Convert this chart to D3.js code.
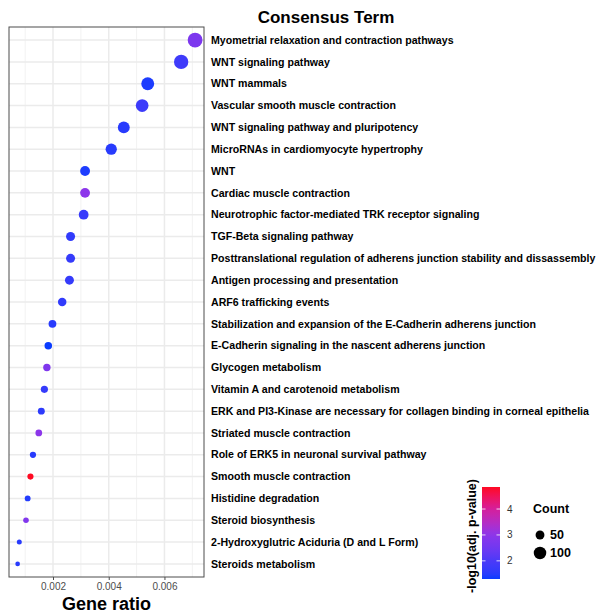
<!DOCTYPE html>
<html><head><meta charset="utf-8">
<script src="https://cdn.jsdelivr.net/npm/d3@7"></script>
<style>body{margin:0;background:#fff;} svg{display:block;font-family:"Liberation Sans",Arial,sans-serif;}</style>
</head><body><svg id="c" width="596" height="614"></svg>
<script>
const terms = [
 "Myometrial relaxation and contraction pathways",
 "WNT signaling pathway",
 "WNT mammals",
 "Vascular smooth muscle contraction",
 "WNT signaling pathway and pluripotency",
 "MicroRNAs in cardiomyocyte hypertrophy",
 "WNT",
 "Cardiac muscle contraction",
 "Neurotrophic factor-mediated TRK receptor signaling",
 "TGF-Beta signaling pathway",
 "Posttranslational regulation of adherens junction stability and dissassembly",
 "Antigen processing and presentation",
 "ARF6 trafficking events",
 "Stabilization and expansion of the E-Cadherin adherens junction",
 "E-Cadherin signaling in the nascent adherens junction",
 "Glycogen metabolism",
 "Vitamin A and carotenoid metabolism",
 "ERK and PI3-Kinase are necessary for collagen binding in corneal epithelia",
 "Striated muscle contraction",
 "Role of ERK5 in neuronal survival pathway",
 "Smooth muscle contraction",
 "Histidine degradation",
 "Steroid biosynthesis",
 "2-Hydroxyglutric Aciduria (D and L Form)",
 "Steroids metabolism"
];
const geneRatio = [0.00710,0.00660,0.00540,0.00520,0.00454,0.00409,0.00315,0.00315,0.00310,0.00263,0.00263,0.00259,0.00233,0.00198,0.00183,0.00178,0.00169,0.00158,0.00149,0.00128,0.00119,0.00109,0.00103,0.00079,0.00073];
const counts = [140,131,107,103,90,81,62,62,61,52,52,51,46,39,36,35,33,31,29,25,24,22,20,16,14];
const negLogP = [2.7,1.8,1.4,1.75,1.5,1.5,1.4,3.0,1.7,1.6,1.65,1.65,1.6,1.5,1.3,2.75,1.65,1.55,3.0,1.5,4.85,1.45,2.8,1.5,1.5];
const xTicks = [0.002,0.004,0.006];
const xMinor = [0.001,0.003,0.005,0.007];
const colorTicks = [2,3,4];
const colorStops = [1.3,2,3,4,4.85];
const colorRange = ["#0a3cff","#4a3af8","#8c36ea","#d41f9c","#ff0a22"];
const sizeBreaks = [50,100];

const svg = d3.select("#c");
const P = {l:9, r:204, t:27, b:577};

const x = d3.scaleLinear().domain([0.00042,0.00742]).range([P.l,P.r]);
const y = d3.scalePoint().domain(terms).range([P.t,P.b]).padding(0.6);
const cDom = [colorStops[0], colorStops[colorStops.length-1]];
const color = d3.scaleLinear().domain(colorStops).range(colorRange).interpolate(d3.interpolateLab);
const r = d3.scaleSqrt().domain([0,140]).range([0,7.4]);

svg.append("rect").attr("x",P.l).attr("y",P.t).attr("width",P.r-P.l).attr("height",P.b-P.t).attr("fill","#fff");
const g = svg.append("g");
g.selectAll(".mn").data(xMinor).join("line").attr("x1",d=>x(d)).attr("x2",d=>x(d)).attr("y1",P.t).attr("y2",P.b).attr("stroke","#f2f2f2").attr("stroke-width",1);
g.selectAll(".mj").data(xTicks).join("line").attr("x1",d=>x(d)).attr("x2",d=>x(d)).attr("y1",P.t).attr("y2",P.b).attr("stroke","#ebebeb").attr("stroke-width",1.5);
g.selectAll(".hy").data(terms).join("line").attr("x1",P.l).attr("x2",P.r).attr("y1",d=>y(d)).attr("y2",d=>y(d)).attr("stroke","#ebebeb").attr("stroke-width",1.5);

const data = terms.map((t,i)=>({t,gr:geneRatio[i],c:counts[i],p:negLogP[i]}));
svg.append("g").selectAll("circle").data(data).join("circle")
 .attr("cx",d=>x(d.gr)).attr("cy",d=>y(d.t)).attr("r",d=>r(d.c)).attr("fill",d=>color(d.p));

svg.append("rect").attr("x",P.l).attr("y",P.t).attr("width",P.r-P.l).attr("height",P.b-P.t).attr("fill","none").attr("stroke","#4d4d4d").attr("stroke-width",1);

const xa = svg.append("g").attr("transform",`translate(0,${P.b})`)
 .call(d3.axisBottom(x).tickValues(xTicks).tickSize(3).tickPadding(3).tickFormat(d3.format(".3f")));
xa.select(".domain").remove();
xa.selectAll("line").attr("stroke","#4d4d4d");
xa.selectAll("text").attr("fill","#4d4d4d").attr("font-size",10).attr("font-family","Liberation Sans, Arial, sans-serif");

svg.append("text").attr("x",(P.l+P.r)/2).attr("y",610).attr("text-anchor","middle")
 .attr("font-size",18).attr("font-weight","bold").text("Gene ratio");

svg.append("g").selectAll("text").data(terms).join("text")
 .attr("x",211).attr("y",d=>y(d)).attr("dy","0.35em").attr("font-size",10.6).attr("font-weight","bold").attr("fill","#000").text(d=>d);

svg.append("text").attr("x",326).attr("y",23).attr("text-anchor","middle").attr("font-size",17).attr("font-weight","bold").text("Consensus Term");

const cb = {x:482,w:18,top:487,bot:579};
const cy = d3.scaleLinear().domain(cDom).range([cb.bot,cb.top]);
const defs = svg.append("defs");
const grad = defs.append("linearGradient").attr("id","cg").attr("x1",0).attr("y1",1).attr("x2",0).attr("y2",0);
d3.range(0,1.0001,0.05).forEach(f=>{
  grad.append("stop").attr("offset",f).attr("stop-color",color(cDom[0]+f*(cDom[1]-cDom[0])));
});
svg.append("rect").attr("x",cb.x).attr("y",cb.top).attr("width",cb.w).attr("height",cb.bot-cb.top).attr("fill","url(#cg)");
colorTicks.forEach(v=>{
  svg.append("line").attr("x1",cb.x).attr("x2",cb.x+3.5).attr("y1",cy(v)).attr("y2",cy(v)).attr("stroke","#fff").attr("stroke-opacity",0.8);
  svg.append("line").attr("x1",cb.x+cb.w-3.5).attr("x2",cb.x+cb.w).attr("y1",cy(v)).attr("y2",cy(v)).attr("stroke","#fff").attr("stroke-opacity",0.8);
});
svg.append("g").selectAll("text").data(colorTicks).join("text")
 .attr("x",507).attr("y",d=>cy(d)).attr("dy","0.35em").attr("font-size",10).attr("fill","#333").text(d=>d);
svg.append("text").attr("transform","translate(476,536) rotate(-90)").attr("text-anchor","middle")
 .attr("font-size",12.5).attr("font-weight","bold").text("-log10(adj. p-value)");

svg.append("text").attr("x",533).attr("y",513).attr("font-size",12.5).attr("font-weight","bold").text("Count");
const sy = [535,553];
svg.append("g").selectAll("circle").data(sizeBreaks).join("circle")
 .attr("cx",540).attr("cy",(d,i)=>sy[i]).attr("r",d=>r(d)).attr("fill","#000");
svg.append("g").selectAll("text").data(sizeBreaks).join("text")
 .attr("x",550).attr("y",(d,i)=>sy[i]).attr("dy","0.35em").attr("font-size",12.5).attr("font-weight","bold").text(d=>d);
</script>
</body></html>
